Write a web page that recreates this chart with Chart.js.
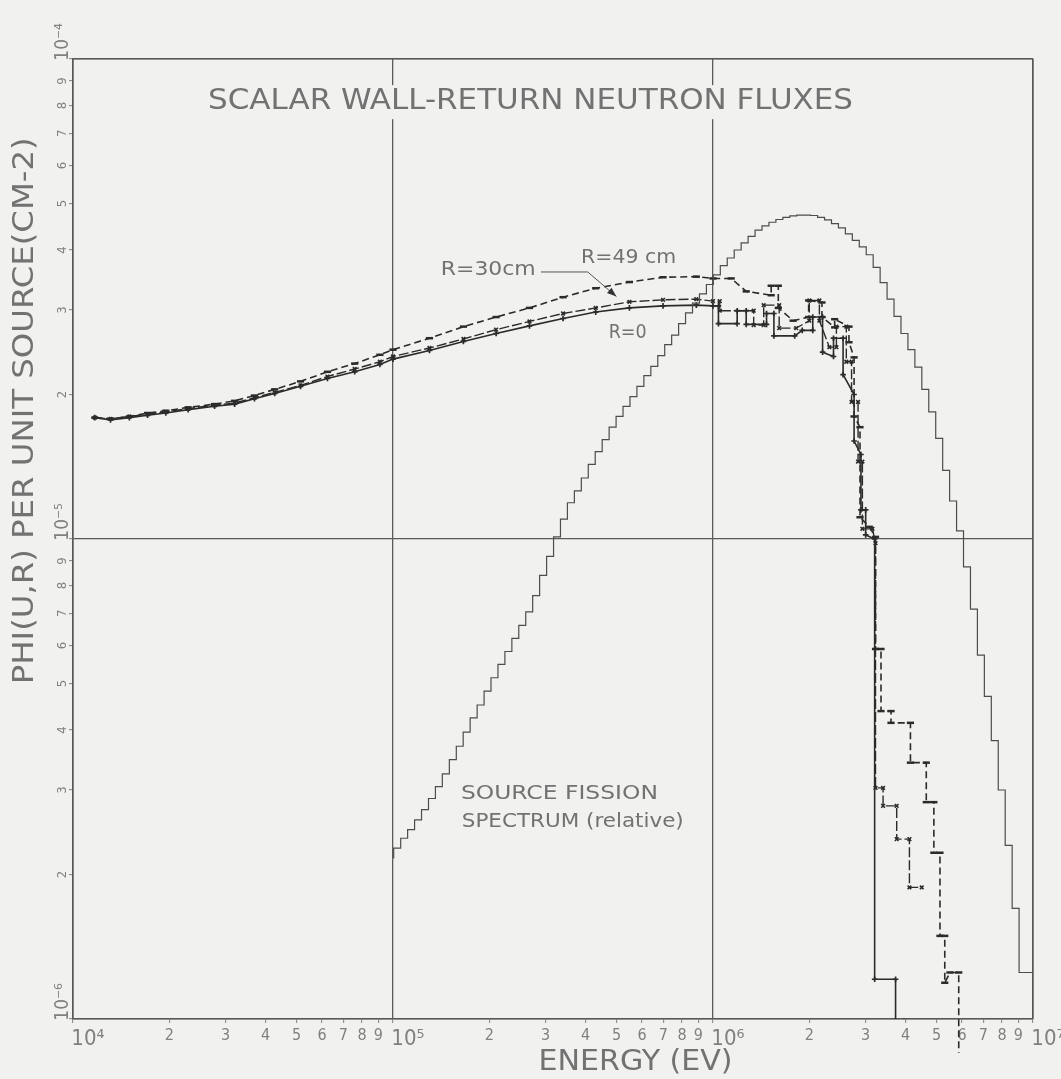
<!DOCTYPE html>
<html>
<head>
<meta charset="utf-8">
<title>Scalar wall-return neutron fluxes</title>
<script src="https://cdn.jsdelivr.net/npm/chart.js@4.4.1/dist/chart.umd.min.js"></script>
<style>
  html, body { margin: 0; padding: 0; background: #f1f1ef; }
  canvas { display: block; }
</style>
</head>
<body>
<canvas id="chart" width="1061" height="1079"></canvas>
<script>
// ---------------------------------------------------------------------------
// Data
// ---------------------------------------------------------------------------

// Group edges (MeV) of the source fission spectrum histogram (lethargy width 0.05)
const fissionEdgesMeV = [
  0.1005, 0.1057, 0.1111, 0.1168, 0.1228, 0.1291, 0.1357, 0.1426, 0.1500, 0.1577,
  0.1657, 0.1742, 0.1832, 0.1926, 0.2024, 0.2128, 0.2237, 0.2352, 0.2472, 0.2599,
  0.2732, 0.2872, 0.3020, 0.3175, 0.3337, 0.3508, 0.3688, 0.3877, 0.4076, 0.4285,
  0.4505, 0.4736, 0.4979, 0.5234, 0.5502, 0.5784, 0.6081, 0.6393, 0.6721, 0.7065,
  0.7427, 0.7808, 0.8208, 0.8629, 0.9072, 0.9537, 1.0026, 1.0540, 1.1080, 1.1648,
  1.2246, 1.2873, 1.3534, 1.4227, 1.4957, 1.5724, 1.6530, 1.7377, 1.8268, 1.9205,
  2.0190, 2.1225, 2.2313, 2.3457, 2.4660, 2.5924, 2.7253, 2.8650, 3.0119, 3.1664,
  3.3287, 3.4994, 3.6788, 3.8674, 4.0657, 4.2741, 4.4933, 4.7237, 4.9659, 5.2205,
  5.4881, 5.7695, 6.0653, 6.3763, 6.7032, 7.0469, 7.4082, 7.7880, 8.1873, 8.6071,
  9.0484, 9.5123, 10.0
];

// Source fission spectrum (relative), one value per group, units of 1e-6
const fissionSpectrum = [
  2.16, 2.27, 2.38, 2.48, 2.60, 2.73, 2.88, 3.05, 3.24, 3.47,
  3.70, 3.96, 4.24, 4.51, 4.82, 5.14, 5.48, 5.83, 6.21, 6.61,
  7.05, 7.62, 8.40, 9.20, 10.1, 11.0, 11.9, 12.6, 13.4, 14.3,
  15.2, 16.1, 17.1, 18.0, 18.9, 19.8, 20.8, 21.9, 22.9, 24.1,
  25.4, 26.6, 28.1, 29.6, 31.0, 32.4, 33.9, 35.5, 37.1, 38.5,
  40.0, 41.4, 42.7, 44.0, 44.9, 45.7, 46.3, 46.8, 47.1, 47.3,
  47.3, 47.2, 46.8, 46.2, 45.4, 44.5, 43.2, 41.9, 40.6, 39.1,
  36.8, 34.2, 31.6, 29.1, 26.8, 24.8, 22.8, 20.5, 18.4, 16.2,
  13.9, 12.0, 10.4, 8.75, 7.14, 5.73, 4.70, 3.80, 3.00, 2.30,
  1.70, 1.25
];
// Level the histogram falls to at its 10 MeV upper edge (below the axis)
const fissionFloor = 1e-7;

// Energies (eV) of the smooth part of the wall-return flux curves
const fluxEnergies = [
  1.17e4, 1.31e4, 1.50e4, 1.71e4, 1.95e4, 2.29e4, 2.77e4, 3.20e4, 3.69e4, 4.27e4,
  5.14e4, 6.24e4, 7.59e4, 9.10e4, 1.00e5, 1.30e5, 1.66e5, 2.10e5, 2.67e5, 3.40e5,
  4.30e5, 5.48e5, 6.98e5, 8.87e5, 1.00e6
];

// Scalar flux per unit source, units of 1e-5 cm^-2
const fluxR0 = [
  1.79, 1.77, 1.79, 1.81, 1.83, 1.86, 1.89, 1.91, 1.96, 2.01,
  2.08, 2.16, 2.23, 2.31, 2.37, 2.47, 2.58, 2.68, 2.78, 2.88,
  2.97, 3.03, 3.06, 3.07, 3.06
];
const fluxR30 = [
  1.79, 1.78, 1.80, 1.82, 1.84, 1.87, 1.90, 1.92, 1.97, 2.02,
  2.09, 2.18, 2.26, 2.34, 2.40, 2.50, 2.61, 2.73, 2.84, 2.95,
  3.03, 3.12, 3.15, 3.16, 3.13
];
const fluxR49 = [
  1.79, 1.78, 1.80, 1.83, 1.85, 1.88, 1.91, 1.94, 1.99, 2.05,
  2.13, 2.23, 2.32, 2.42, 2.48, 2.62, 2.77, 2.90, 3.03, 3.19,
  3.33, 3.43, 3.51, 3.52, 3.49
];

// Group-wise structure above 1 MeV: [energy (eV), flux (1e-5 cm^-2)]
const tailR0 = [
  [1.04e6, 3.06], [1.04e6, 2.81], [1.19e6, 2.81], [1.19e6, 2.99], [1.27e6, 2.99],
  [1.27e6, 2.80], [1.47e6, 2.80], [1.47e6, 2.95], [1.55e6, 2.95], [1.55e6, 2.65],
  [1.80e6, 2.65], [1.90e6, 2.72], [2.05e6, 2.72], [2.05e6, 2.90], [2.20e6, 2.90],
  [2.20e6, 2.45], [2.38e6, 2.40], [2.38e6, 2.62], [2.55e6, 2.62], [2.55e6, 2.20],
  [2.76e6, 2.00], [2.76e6, 1.60], [2.90e6, 1.50], [2.90e6, 1.15], [3.00e6, 1.15],
  [3.00e6, 1.02], [3.20e6, 1.00], [3.20e6, 0.121], [3.72e6, 0.121], [3.72e6, 0.099],
  [3.95e6, 0.099]
];
const tailR30 = [
  [1.05e6, 3.13], [1.05e6, 2.99], [1.34e6, 2.99], [1.34e6, 2.79], [1.44e6, 2.79],
  [1.44e6, 3.07], [1.61e6, 3.07], [1.61e6, 2.75], [1.82e6, 2.75], [2.00e6, 2.85],
  [2.00e6, 3.14], [2.15e6, 3.14], [2.15e6, 2.85], [2.31e6, 2.51], [2.43e6, 2.51],
  [2.43e6, 2.77], [2.61e6, 2.77], [2.61e6, 2.34], [2.71e6, 2.34], [2.71e6, 1.93],
  [2.84e6, 1.93], [2.84e6, 1.45], [2.93e6, 1.45], [2.93e6, 1.05], [3.15e6, 1.05],
  [3.22e6, 0.98], [3.22e6, 0.303], [3.40e6, 0.303], [3.40e6, 0.278], [3.75e6, 0.278],
  [3.75e6, 0.237], [4.11e6, 0.237], [4.11e6, 0.188], [4.49e6, 0.188]
];
const tailR49 = [
  [1.14e6, 3.49], [1.27e6, 3.28], [1.52e6, 3.22], [1.52e6, 3.37], [1.60e6, 3.37],
  [1.60e6, 3.03], [1.78e6, 2.85], [1.99e6, 2.90], [1.99e6, 3.14], [2.19e6, 3.11],
  [2.19e6, 2.90], [2.40e6, 2.76], [2.40e6, 2.87], [2.66e6, 2.77], [2.66e6, 2.57],
  [2.76e6, 2.39], [2.76e6, 1.80], [2.88e6, 1.71], [2.88e6, 1.11], [3.08e6, 1.06],
  [3.22e6, 1.01], [3.22e6, 0.59], [3.35e6, 0.59], [3.35e6, 0.438], [3.60e6, 0.438],
  [3.60e6, 0.414], [4.14e6, 0.414], [4.14e6, 0.342], [4.64e6, 0.342], [4.64e6, 0.283],
  [4.90e6, 0.283], [4.90e6, 0.222], [5.12e6, 0.222], [5.12e6, 0.149], [5.30e6, 0.149],
  [5.30e6, 0.119], [5.50e6, 0.125], [5.86e6, 0.125], [5.86e6, 0.085]
];

// Axis ticks and their labels
const energyTicks = [
  1e4, 2e4, 3e4, 4e4, 5e4, 6e4, 7e4, 8e4, 9e4,
  1e5, 2e5, 3e5, 4e5, 5e5, 6e5, 7e5, 8e5, 9e5,
  1e6, 2e6, 3e6, 4e6, 5e6, 6e6, 7e6, 8e6, 9e6,
  1e7
];
const energyTickLabels = [
  '10⁴', '2', '3', '4', '5', '6', '7', '8', '9',
  '10⁵', '2', '3', '4', '5', '6', '7', '8', '9',
  '10⁶', '2', '3', '4', '5', '6', '7', '8', '9',
  '10⁷'
];
const fluxTicks = [
  1e-6, 2e-6, 3e-6, 4e-6, 5e-6, 6e-6, 7e-6, 8e-6, 9e-6,
  1e-5, 2e-5, 3e-5, 4e-5, 5e-5, 6e-5, 7e-5, 8e-5, 9e-5,
  1e-4
];
const fluxTickLabels = [
  '10⁻⁶', '2', '3', '4', '5', '6', '7', '8', '9',
  '10⁻⁵', '2', '3', '4', '5', '6', '7', '8', '9',
  '10⁻⁴'
];

// ---------------------------------------------------------------------------
// Styling
// ---------------------------------------------------------------------------
const FONT = '"Liberation Sans Narrow", "DejaVu Sans Condensed", "Liberation Sans", "DejaVu Sans", sans-serif';
const PAPER = '#f1f1ef';
const INK = '#2b2b2b';
const SPECTRUM_INK = '#4d4d4d';
const GRID = '#5a5a5a';
const FRAME = '#585858';
const TEXT = '#727272';
const TICK_TEXT = '#808080';

const X_MAJOR = 22, X_MINOR = 16, Y_MAJOR = 19, Y_MINOR = 13;

const measureCtx = document.createElement('canvas').getContext('2d');
function textWidth(str, size) {
  measureCtx.font = size + 'px ' + FONT;
  return measureCtx.measureText(str).width;
}
// Decade labels start at their tick: pad them on the left with en spaces
function leadPadded(label, size) {
  const n = Math.max(1, Math.round(textWidth(label, size) / textWidth('\u2002', size)));
  return '\u2002'.repeat(n) + label;
}
const isDecade = label => label.startsWith('10');

const xLabels = energyTickLabels.map(l => isDecade(l) ? leadPadded(l, X_MAJOR) : l);
const yLabels = fluxTickLabels.map(l => isDecade(l) ? leadPadded(l, Y_MAJOR) : l);
const yWidest = Math.max(...yLabels.map((l, i) => textWidth(l, isDecade(fluxTickLabels[i]) ? Y_MAJOR : Y_MINOR)));

// ---------------------------------------------------------------------------
// Datasets built from the arrays above
// ---------------------------------------------------------------------------
const fissionPoints = fissionSpectrum.map((v, i) => ({ x: fissionEdgesMeV[i] * 1e6, y: v * 1e-6 }));
const lastEdge = fissionEdgesMeV[fissionEdgesMeV.length - 1] * 1e6;
fissionPoints.push({ x: lastEdge, y: fissionSpectrum[fissionSpectrum.length - 1] * 1e-6 });
fissionPoints.push({ x: lastEdge, y: fissionFloor });

function fluxPoints(values, tail) {
  const smooth = fluxEnergies.map((e, i) => ({ x: e, y: values[i] * 1e-5 }));
  return smooth.concat(tail.map(([e, v]) => ({ x: e, y: v * 1e-5 })));
}

// ---------------------------------------------------------------------------
// Annotations
// ---------------------------------------------------------------------------
const TITLE = 'SCALAR WALL-RETURN NEUTRON FLUXES';
const titleSpot = { at: [2.69e5, 8.13e-5], size: 28, width: 645 };
const curveLabels = [
  { text: 'R=30cm', at: [1.41e5, 3.63e-5], size: 19, width: 95 },
  { text: 'R=49 cm', at: [3.87e5, 3.84e-5], size: 19, width: 95 },
  { text: 'R=0', at: [4.72e5, 2.69e-5], size: 20, width: 38 },
  { text: 'SOURCE FISSION', at: [1.63e5, 2.94e-6], size: 20, width: 197 },
  { text: 'SPECTRUM (relative)', at: [1.64e5, 2.57e-6], size: 20, width: 222 }
];
const leaderPath = [[2.90e5, 3.60e-5], [4.06e5, 3.60e-5], [4.99e5, 3.20e-5]];
const X_TITLE = 'ENERGY (EV)';
const Y_TITLE = 'PHI(U,R) PER UNIT SOURCE(CM-2)';

function fitText(ctx, text, x, y, size, width, align, rotation) {
  ctx.save();
  ctx.font = size + 'px ' + FONT;
  const w = ctx.measureText(text).width;
  ctx.translate(x, y);
  if (rotation) ctx.rotate(rotation);
  ctx.scale(width / w, 1);
  ctx.textAlign = align;
  ctx.textBaseline = 'middle';
  ctx.fillText(text, 0, 0);
  ctx.restore();
}

const decorations = {
  id: 'decorations',
  beforeDraw(chart) {
    const { ctx, width, height } = chart;
    ctx.save();
    ctx.fillStyle = PAPER;
    ctx.fillRect(0, 0, width, height);
    ctx.restore();
  },
  afterDraw(chart) {
    const { ctx, chartArea: a, scales: { x, y } } = chart;
    ctx.save();

    // top and right edges of the frame
    ctx.strokeStyle = FRAME;
    ctx.lineWidth = 1.2;
    ctx.beginPath();
    ctx.moveTo(a.left, a.top);
    ctx.lineTo(a.right, a.top);
    ctx.lineTo(a.right, a.bottom);
    ctx.stroke();

    // title, lettered over a clear band
    const tx = x.getPixelForValue(titleSpot.at[0]);
    const ty = y.getPixelForValue(titleSpot.at[1]);
    ctx.fillStyle = PAPER;
    ctx.fillRect(tx - titleSpot.width / 2 - 6, ty - 17, titleSpot.width + 12, 34);
    ctx.fillStyle = TEXT;
    fitText(ctx, TITLE, tx, ty, titleSpot.size, titleSpot.width, 'center');

    // curve and spectrum labels
    curveLabels.forEach(l => {
      fitText(ctx, l.text, x.getPixelForValue(l.at[0]), y.getPixelForValue(l.at[1]), l.size, l.width, 'left');
    });

    // leader from the R=30cm label to its curve
    const pts = leaderPath.map(([e, v]) => [x.getPixelForValue(e), y.getPixelForValue(v)]);
    ctx.strokeStyle = '#555';
    ctx.lineWidth = 1;
    ctx.beginPath();
    pts.forEach(([px, py], i) => (i ? ctx.lineTo(px, py) : ctx.moveTo(px, py)));
    ctx.stroke();
    const [p1, p2] = [pts[pts.length - 2], pts[pts.length - 1]];
    const ang = Math.atan2(p2[1] - p1[1], p2[0] - p1[0]);
    ctx.fillStyle = '#333';
    ctx.beginPath();
    ctx.moveTo(p2[0], p2[1]);
    ctx.lineTo(p2[0] - 10 * Math.cos(ang - 0.35), p2[1] - 10 * Math.sin(ang - 0.35));
    ctx.lineTo(p2[0] - 10 * Math.cos(ang + 0.35), p2[1] - 10 * Math.sin(ang + 0.35));
    ctx.closePath();
    ctx.fill();

    // axis titles
    ctx.fillStyle = TEXT;
    fitText(ctx, X_TITLE, x.getPixelForValue(5.73e5), a.bottom + 44, 28, 194, 'center');
    fitText(ctx, Y_TITLE, a.left - 47, y.getPixelForValue(1.85e-5), 28, 547, 'center', -Math.PI / 2);

    ctx.restore();
  }
};

// ---------------------------------------------------------------------------
// Chart
// ---------------------------------------------------------------------------
const Y_AXIS_WIDTH = 73;
const Y_TICK_LEN = 4;
const yLabelCentre = 10; // distance of the rotated labels' centre line from the axis

new Chart(document.getElementById('chart'), {
  type: 'line',
  data: {
    datasets: [
      {
        label: 'Source fission spectrum (relative)',
        data: fissionPoints,
        stepped: 'after',
        borderColor: SPECTRUM_INK,
        borderWidth: 1.2,
        pointRadius: 0
      },
      {
        label: 'R=0',
        data: fluxPoints(fluxR0, tailR0),
        borderColor: INK,
        borderWidth: 1.6,
        pointStyle: 'cross',
        pointRadius: 2.8,
        pointBorderWidth: 1.7,
        pointBorderColor: INK
      },
      {
        label: 'R=30cm',
        data: fluxPoints(fluxR30, tailR30),
        borderColor: INK,
        borderWidth: 1.4,
        borderDash: [10, 3],
        pointStyle: 'crossRot',
        pointRadius: 2.6,
        pointBorderWidth: 1.6,
        pointBorderColor: INK
      },
      {
        label: 'R=49 cm',
        data: fluxPoints(fluxR49, tailR49),
        borderColor: INK,
        borderWidth: 1.6,
        borderDash: [7, 4],
        pointStyle: 'line',
        pointRadius: 3.6,
        pointBorderWidth: 2.5,
        pointBorderColor: INK,
        clip: { left: 0, top: 0, right: 0, bottom: 40 }
      }
    ]
  },
  options: {
    responsive: false,
    devicePixelRatio: 1,
    animation: false,
    events: [],
    layout: { padding: { top: 59, right: 28, bottom: 0, left: 0 } },
    plugins: {
      legend: { display: false },
      title: { display: false },
      tooltip: { enabled: false }
    },
    elements: { line: { tension: 0 } },
    scales: {
      x: {
        type: 'logarithmic',
        position: 'bottom',
        min: 1e4,
        max: 1e7,
        afterBuildTicks: s => { s.ticks = energyTicks.map(v => ({ value: v })); },
        afterFit: s => { s.height = 60; s.paddingLeft = 0; s.paddingRight = 0; },
        border: { display: true, color: FRAME, width: 1.6 },
        grid: {
          color: c => (isDecade(energyTickLabels[c.index] || '') ? GRID : 'rgba(0,0,0,0)'),
          lineWidth: 1.3,
          drawTicks: true,
          tickLength: 4,
          tickColor: '#808080',
          tickWidth: 1
        },
        ticks: {
          autoSkip: false,
          minRotation: 0,
          maxRotation: 0,
          padding: 3,
          color: TICK_TEXT,
          font: c => ({ family: FONT, size: isDecade(energyTickLabels[c.index] || '') ? X_MAJOR : X_MINOR }),
          callback: (v, i) => xLabels[i]
        }
      },
      y: {
        type: 'logarithmic',
        position: 'left',
        min: 1e-6,
        max: 1e-4,
        afterBuildTicks: s => { s.ticks = fluxTicks.map(v => ({ value: v })); },
        afterFit: s => { s.width = Y_AXIS_WIDTH; s.paddingTop = 0; s.paddingBottom = 0; },
        border: { display: true, color: FRAME, width: 1.6 },
        grid: {
          color: c => (isDecade(fluxTickLabels[c.index] || '') ? GRID : 'rgba(0,0,0,0)'),
          lineWidth: 1.3,
          drawTicks: true,
          tickLength: Y_TICK_LEN,
          tickColor: '#808080',
          tickWidth: 1
        },
        ticks: {
          autoSkip: false,
          minRotation: 90,
          maxRotation: 90,
          crossAlign: 'center',
          padding: yLabelCentre - Y_TICK_LEN - yWidest / 2,
          color: TICK_TEXT,
          font: c => ({ family: FONT, size: isDecade(fluxTickLabels[c.index] || '') ? Y_MAJOR : Y_MINOR }),
          callback: (v, i) => yLabels[i]
        }
      }
    }
  },
  plugins: [decorations]
});
</script>
</body>
</html>
